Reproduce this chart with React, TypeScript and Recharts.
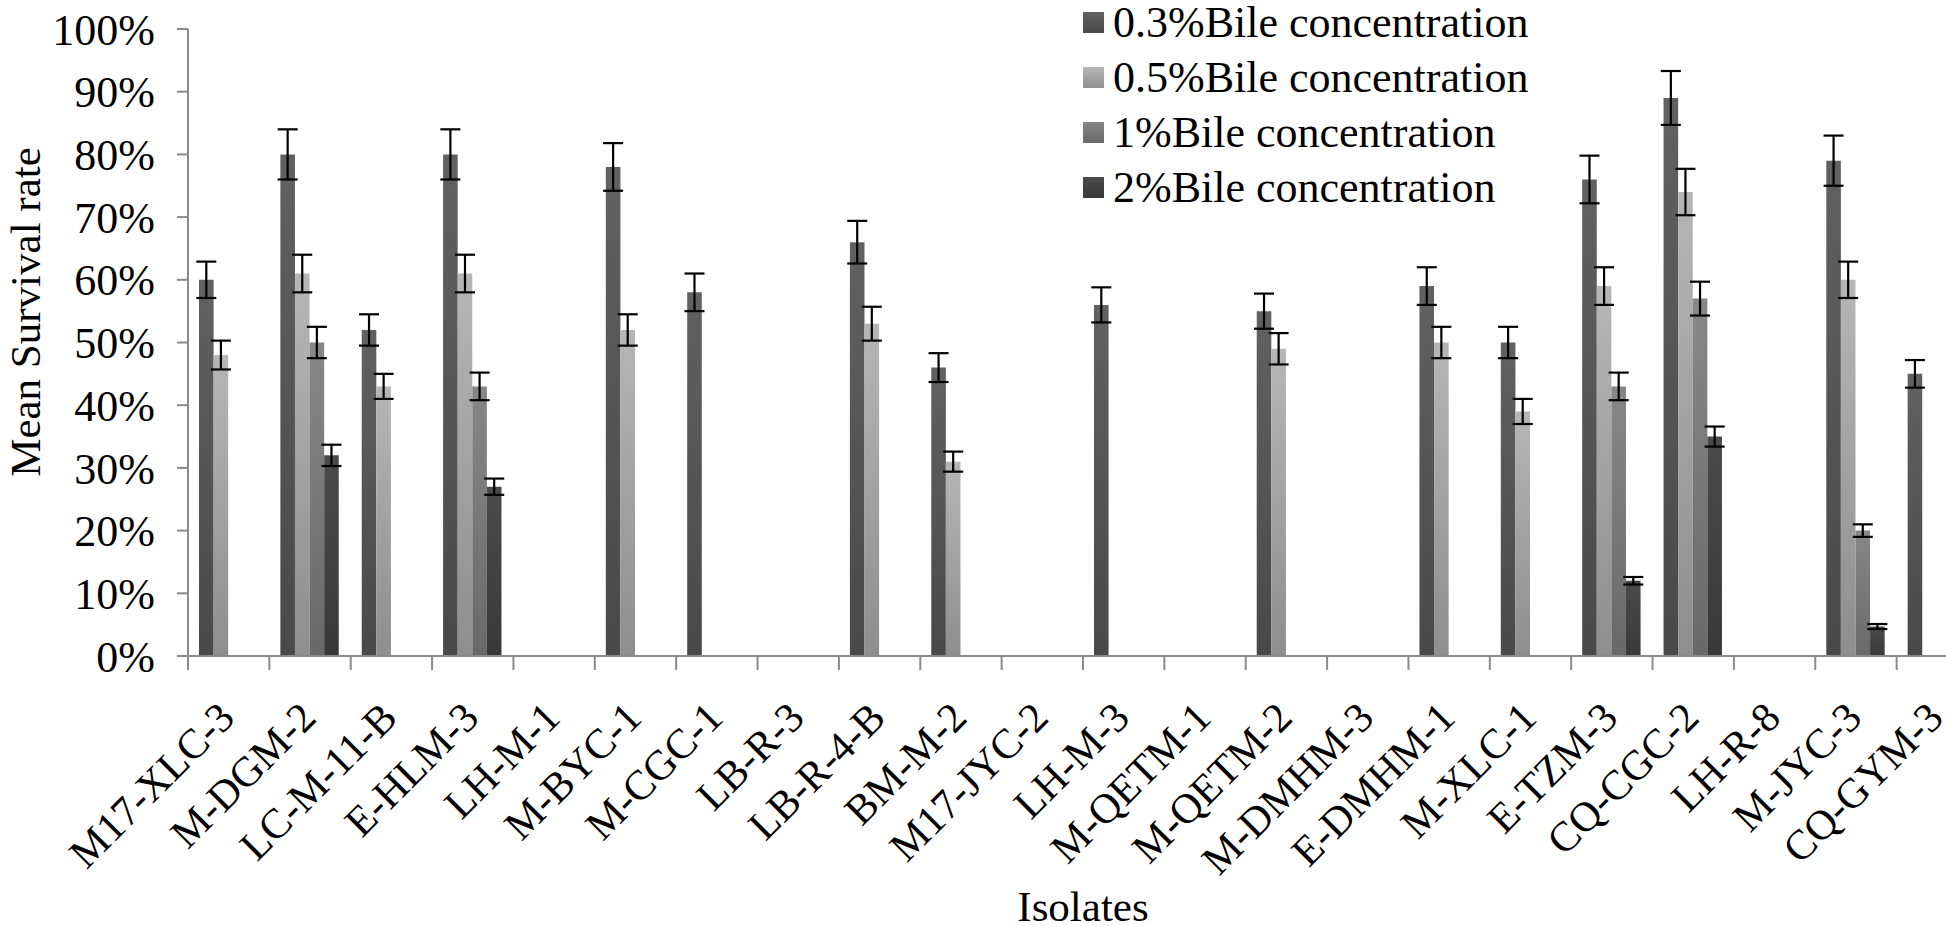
import React from 'react';
import { BarChart, Bar, XAxis, YAxis, ErrorBar, Legend, Label } from 'recharts';

const isolates = [
  'M17-XLC-3', 'M-DGM-2', 'LC-M-11-B', 'E-HLM-3', 'LH-M-1', 'M-BYC-1', 'M-CGC-1',
  'LB-R-3', 'LB-R-4-B', 'BM-M-2', 'M17-JYC-2', 'LH-M-3', 'M-QETM-1', 'M-QETM-2',
  'M-DMHM-3', 'E-DMHM-1', 'M-XLC-1', 'E-TZM-3', 'CQ-CGC-2', 'LH-R-8', 'M-JYC-3', 'CQ-GYM-3',
];

// mean survival (%) per bile concentration, null = not shown
const bile03 = [60, 80, 52, 80, null, 78, 58, null, 66, 46, null, 56, null, 55, null, 59, 50, 76, 89, null, 79, 45];
const err03 = [2.9, 4, 2.5, 4, null, 3.8, 3, null, 3.4, 2.3, null, 2.8, null, 2.8, null, 3, 2.5, 3.8, 4.3, null, 4, 2.2];

const bile05 = [48, 61, 43, 61, null, 52, null, null, 53, 31, null, null, null, 49, null, 50, 39, 59, 74, null, 60, null];
const err05 = [2.3, 3, 2, 3, null, 2.5, null, null, 2.7, 1.6, null, null, null, 2.5, null, 2.5, 2, 3, 3.7, null, 2.9, null];

const bile1 = [null, 50, null, 43, null, null, null, null, null, null, null, null, null, null, null, null, null, 43, 57, null, 20, null];
const err1 = [null, 2.5, null, 2.2, null, null, null, null, null, null, null, null, null, null, null, null, null, 2.2, 2.7, null, 1, null];

const bile2 = [null, 32, null, 27, null, null, null, null, null, null, null, null, null, null, null, null, null, 12, 35, null, 4.7, null];
const err2 = [null, 1.7, null, 1.3, null, null, null, null, null, null, null, null, null, null, null, null, null, 0.6, 1.6, null, 0.4, null];

const yTicks = [0, 10, 20, 30, 40, 50, 60, 70, 80, 90, 100];

const SERIES = [
  { key: 'b03', err: 'e03', name: '0.3%Bile concentration', top: '#616161', bottom: '#494949' },
  { key: 'b05', err: 'e05', name: '0.5%Bile concentration', top: '#b6b6b6', bottom: '#8e8e8e' },
  { key: 'b1', err: 'e1', name: '1%Bile concentration', top: '#878787', bottom: '#696969' },
  { key: 'b2', err: 'e2', name: '2%Bile concentration', top: '#4b4b4b', bottom: '#393939' },
];

const data = isolates.map((name, i) => ({
  name,
  b03: bile03[i], e03: err03[i],
  b05: bile05[i], e05: err05[i],
  b1: bile1[i], e1: err1[i],
  b2: bile2[i], e2: err2[i],
}));

const SERIF = "'Liberation Serif', 'Times New Roman', serif";
const AXIS = '#8a8a8a';
const CHART_W = 2000;
const CHART_H = 926;
const PLOT_LEFT = 188;
const PLOT_RIGHT = 1978;
const HALF_BAND = (PLOT_RIGHT - PLOT_LEFT) / isolates.length / 2;

function IsolateTick(props: any) {
  const { x, y, payload, index } = props;
  const last = index === isolates.length - 1;
  return (
    <g>
      <line x1={x - HALF_BAND} y1={y} x2={x - HALF_BAND} y2={y + 14} stroke={AXIS} strokeWidth={2} />
      {last && <line x1={x + HALF_BAND} y1={y} x2={x + HALF_BAND} y2={y + 14} stroke={AXIS} strokeWidth={2} />}
      <text
        transform={`translate(${x + 8},${y + 64}) rotate(-45)`}
        textAnchor="end"
        fontSize={42}
        fontFamily={SERIF}
        fill="#000"
      >
        {payload.value}
      </text>
    </g>
  );
}

const renderLegend = () => (
  <div style={{ fontFamily: SERIF, fontSize: 44, color: '#000' }}>
    {SERIES.map((s) => (
      <div key={s.key} style={{ display: 'flex', alignItems: 'center', height: 55 }}>
        <span
          style={{
            display: 'inline-block',
            width: 21,
            height: 21,
            marginRight: 9,
            background: `linear-gradient(${s.top}, ${s.bottom})`,
          }}
        />
        <span style={{ lineHeight: '44px', whiteSpace: 'nowrap' }}>{s.name}</span>
      </div>
    ))}
  </div>
);

export default function App() {
  return (
    <div style={{ position: 'absolute', left: 0, top: 0, width: 1946, height: 926, overflow: 'hidden', background: '#fff' }}>
      <BarChart
        width={CHART_W}
        height={CHART_H}
        data={data}
        margin={{ top: 29, right: CHART_W - PLOT_RIGHT, bottom: 0, left: 0 }}
        barGap={0}
        barSize={14.6}
      >
        <defs>
          {SERIES.map((s) => (
            <linearGradient key={s.key} id={`grad-${s.key}`} x1="0" y1="0" x2="0" y2="1">
              <stop offset="0%" stopColor={s.top} />
              <stop offset="100%" stopColor={s.bottom} />
            </linearGradient>
          ))}
        </defs>
        <XAxis
          dataKey="name"
          interval={0}
          height={CHART_H - 656}
          tickLine={false}
          tickSize={0}
          tickMargin={0}
          axisLine={{ stroke: AXIS, strokeWidth: 2 }}
          tick={<IsolateTick />}
        >
          <Label
            content={() => (
              <text x={(PLOT_LEFT + PLOT_RIGHT) / 2} y={921} textAnchor="middle" fontSize={43} fontFamily={SERIF} fill="#000">
                Isolates
              </text>
            )}
          />
        </XAxis>
        <YAxis
          domain={[0, 100]}
          ticks={yTicks}
          width={PLOT_LEFT}
          tickSize={11}
          tickMargin={22}
          tickFormatter={(v: number) => `${v}%`}
          axisLine={{ stroke: AXIS, strokeWidth: 2 }}
          tickLine={{ stroke: AXIS, strokeWidth: 2 }}
          tick={{ fill: '#000', fontSize: 44, fontFamily: SERIF }}
        >
          <Label
            content={() => (
              <text transform="translate(40,312) rotate(-90)" textAnchor="middle" fontSize={43} fontFamily={SERIF} fill="#000">
                Mean Survival rate
              </text>
            )}
          />
        </YAxis>
        <Legend
          layout="vertical"
          align="center"
          verticalAlign="middle"
          content={renderLegend}
          wrapperStyle={{ left: 1083, top: -5, width: 540 }}
        />
        {SERIES.map((s) => (
          <Bar key={s.key} dataKey={s.key} name={s.name} fill={`url(#grad-${s.key})`} isAnimationActive={false}>
            <ErrorBar dataKey={s.err} width={10} stroke="#000" strokeWidth={2.2} direction="y" />
          </Bar>
        ))}
      </BarChart>
    </div>
  );
}
